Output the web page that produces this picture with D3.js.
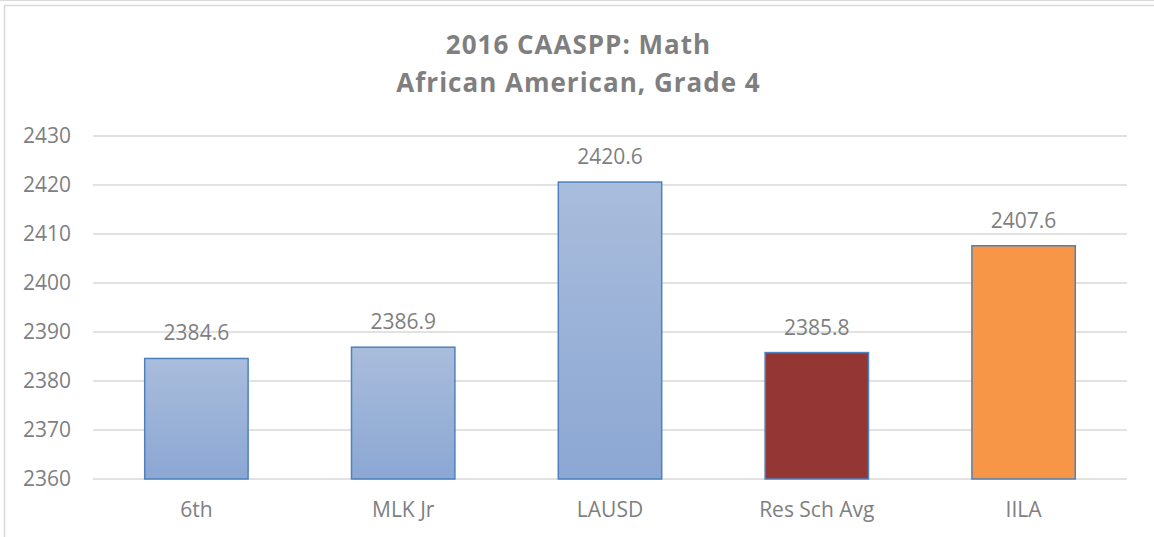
<!DOCTYPE html>
<html lang="en">
<head>
    <meta charset="UTF-8">
    <title>2016 CAASPP: Math</title>
    <script src="https://cdn.jsdelivr.net/npm/d3@7"></script>
    <style>
        body { margin: 0; background: #fff; }
        .axis text, .label, .xlab {
            font-family: "Open Sans", sans-serif;
            font-size: 21px;
            fill: #7f7f7f;
        }
        .title {
            font-family: "Open Sans", sans-serif;
            font-weight: bold;
            font-size: 26px;
            letter-spacing: 1px;
            fill: #7f7f7f;
        }
        .grid line { stroke: #d9d9d9; stroke-width: 1.5; }
    </style>
</head>
<body>
<svg id="vis" width="1154" height="537"></svg>
<script>
    // données
    const schools = ["6th", "MLK Jr", "LAUSD", "Res Sch Avg", "IILA"];
    const scores = [2384.6, 2386.9, 2420.6, 2385.8, 2407.6];
    const fills = ["url(#blueGrad)", "url(#blueGrad)", "url(#blueGrad)", "#943634", "#f79646"];
    const yTicks = [2360, 2370, 2380, 2390, 2400, 2410, 2420, 2430];
    const titleLines = ["2016 CAASPP: Math", "African American, Grade 4"];

    let svg = d3.select("#vis");
    let width = +svg.attr("width");
    let height = +svg.attr("height");
    let margin = { top: 136, right: 27, bottom: 58, left: 93 };

    // dégradé des barres bleues
    let grad = svg.append("defs").append("linearGradient")
        .attr("id", "blueGrad")
        .attr("x1", 0).attr("y1", 0).attr("x2", 0).attr("y2", 1);
    grad.append("stop").attr("offset", "0%").attr("stop-color", "#a9bddc");
    grad.append("stop").attr("offset", "100%").attr("stop-color", "#8ba7d3");

    // cadre (il dépasse à droite et en bas)
    let frameLeft = 4.5, frameWidth = 1152;
    svg.append("line").attr("x1", 0).attr("x2", width).attr("y1", 0.5).attr("y2", 0.5)
        .attr("stroke", "#d9d9d9");
    svg.append("rect").attr("x", frameLeft).attr("y", 5.5).attr("width", frameWidth).attr("height", height + 20)
        .attr("fill", "none").attr("stroke", "#d9d9d9").attr("stroke-width", 1.5);

    let x = d3.scaleBand().domain(schools).range([margin.left, width - margin.right])
        .paddingInner(0.5).paddingOuter(0.25);
    let y = d3.scaleLinear().domain([2360, 2430]).range([height - margin.bottom, margin.top]);

    // titre, centré sur le cadre
    svg.selectAll(".title")
        .data(titleLines)
        .join("text")
        .attr("class", "title")
        .attr("x", frameLeft + frameWidth / 2 - 2)
        .attr("y", (d, i) => 54 + i * 38)
        .attr("text-anchor", "middle")
        .text(d => d);

    // lignes de grille
    svg.append("g")
        .attr("class", "grid")
        .selectAll("line")
        .data(yTicks)
        .join("line")
        .attr("x1", margin.left)
        .attr("x2", width - margin.right)
        .attr("y1", d => y(d))
        .attr("y2", d => y(d));

    svg.append("g")
        .attr("class", "axis")
        .attr("transform", "translate(" + (margin.left - 22) + ",0)")
        .call(d3.axisLeft(y).tickValues(yTicks).tickSize(0).tickPadding(0).tickFormat(d3.format("d")))
        .call(g => g.select(".domain").remove());

    svg.selectAll(".bar")
        .data(schools)
        .join("rect")
        .attr("class", "bar")
        .attr("x", d => x(d))
        .attr("y", (d, i) => y(scores[i]))
        .attr("width", x.bandwidth())
        .attr("height", (d, i) => y(2360) - y(scores[i]))
        .attr("fill", (d, i) => fills[i])
        .attr("stroke", "#4f81bd")
        .attr("stroke-width", 1.5);

    svg.selectAll(".label")
        .data(schools)
        .join("text")
        .attr("class", "label")
        .attr("x", d => x(d) + x.bandwidth() / 2)
        .attr("y", (d, i) => y(scores[i]) - 18)
        .attr("text-anchor", "middle")
        .text((d, i) => scores[i].toFixed(1));

    svg.selectAll(".xlab")
        .data(schools)
        .join("text")
        .attr("class", "xlab")
        .attr("x", d => x(d) + x.bandwidth() / 2)
        .attr("y", height - margin.bottom + 38)
        .attr("text-anchor", "middle")
        .text(d => d);
</script>
</body>
</html>
